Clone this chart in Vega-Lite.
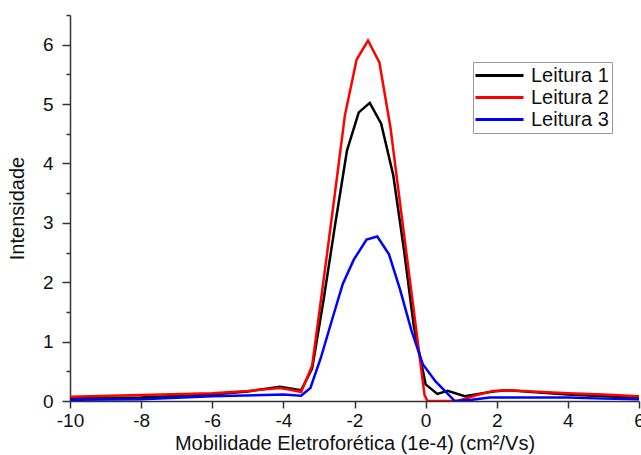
{
  "$schema": "https://vega.github.io/schema/vega-lite/v6.json",
  "width": 569,
  "height": 386,
  "autosize": {"type": "none"},
  "padding": {"left": 70, "top": 15, "right": 2, "bottom": 54},
  "background": "white",
  "config": {
    "view": {"stroke": null},
    "font": "Liberation Sans",
    "axis": {"grid": false, "domainColor": "#333333", "tickColor": "#333333", "domainWidth": 1.5, "tickWidth": 1.5, "labelColor": "#111111", "titleColor": "#111111", "labelFont": "Liberation Sans", "titleFont": "Liberation Sans", "labelFontSize": 19, "titleFontSize": 20, "titleFontWeight": "normal"}
  },
  "data": {
    "values": [
      {"s": "Leitura 1", "x": -10, "y": 0.04},
      {"s": "Leitura 1", "x": -8, "y": 0.06},
      {"s": "Leitura 1", "x": -6, "y": 0.11},
      {"s": "Leitura 1", "x": -5, "y": 0.16},
      {"s": "Leitura 1", "x": -4.1, "y": 0.24},
      {"s": "Leitura 1", "x": -3.5, "y": 0.18},
      {"s": "Leitura 1", "x": -3.19, "y": 0.55},
      {"s": "Leitura 1", "x": -2.87, "y": 1.7},
      {"s": "Leitura 1", "x": -2.55, "y": 2.95},
      {"s": "Leitura 1", "x": -2.21, "y": 4.22},
      {"s": "Leitura 1", "x": -1.88, "y": 4.86},
      {"s": "Leitura 1", "x": -1.57, "y": 5.02},
      {"s": "Leitura 1", "x": -1.25, "y": 4.67},
      {"s": "Leitura 1", "x": -0.91, "y": 3.8},
      {"s": "Leitura 1", "x": -0.61, "y": 2.55},
      {"s": "Leitura 1", "x": -0.33, "y": 1.25},
      {"s": "Leitura 1", "x": 0.0, "y": 0.28},
      {"s": "Leitura 1", "x": 0.33, "y": 0.12},
      {"s": "Leitura 1", "x": 0.62, "y": 0.17},
      {"s": "Leitura 1", "x": 1.1, "y": 0.08},
      {"s": "Leitura 1", "x": 1.9, "y": 0.16},
      {"s": "Leitura 1", "x": 2.3, "y": 0.18},
      {"s": "Leitura 1", "x": 3, "y": 0.15},
      {"s": "Leitura 1", "x": 4, "y": 0.11},
      {"s": "Leitura 1", "x": 5, "y": 0.08},
      {"s": "Leitura 1", "x": 6, "y": 0.06},
      {"s": "Leitura 2", "x": -10, "y": 0.07},
      {"s": "Leitura 2", "x": -8, "y": 0.1},
      {"s": "Leitura 2", "x": -6, "y": 0.13},
      {"s": "Leitura 2", "x": -5, "y": 0.17},
      {"s": "Leitura 2", "x": -4.1, "y": 0.22},
      {"s": "Leitura 2", "x": -3.8, "y": 0.19},
      {"s": "Leitura 2", "x": -3.5, "y": 0.15},
      {"s": "Leitura 2", "x": -3.19, "y": 0.6},
      {"s": "Leitura 2", "x": -2.87, "y": 2.03},
      {"s": "Leitura 2", "x": -2.55, "y": 3.5},
      {"s": "Leitura 2", "x": -2.27, "y": 4.81},
      {"s": "Leitura 2", "x": -1.94, "y": 5.75},
      {"s": "Leitura 2", "x": -1.62, "y": 6.07},
      {"s": "Leitura 2", "x": -1.3, "y": 5.7},
      {"s": "Leitura 2", "x": -0.99, "y": 4.61},
      {"s": "Leitura 2", "x": -0.67, "y": 3.1},
      {"s": "Leitura 2", "x": -0.35, "y": 1.6},
      {"s": "Leitura 2", "x": -0.03, "y": 0.1},
      {"s": "Leitura 2", "x": 0.05, "y": 0.0},
      {"s": "Leitura 2", "x": 0.9, "y": 0.0},
      {"s": "Leitura 2", "x": 1.45, "y": 0.1},
      {"s": "Leitura 2", "x": 1.9, "y": 0.17},
      {"s": "Leitura 2", "x": 2.3, "y": 0.18},
      {"s": "Leitura 2", "x": 3, "y": 0.16},
      {"s": "Leitura 2", "x": 4, "y": 0.13},
      {"s": "Leitura 2", "x": 5, "y": 0.11},
      {"s": "Leitura 2", "x": 6, "y": 0.08},
      {"s": "Leitura 3", "x": -10, "y": 0.02},
      {"s": "Leitura 3", "x": -8, "y": 0.03},
      {"s": "Leitura 3", "x": -6, "y": 0.08},
      {"s": "Leitura 3", "x": -4, "y": 0.11},
      {"s": "Leitura 3", "x": -3.5, "y": 0.09},
      {"s": "Leitura 3", "x": -3.24, "y": 0.22},
      {"s": "Leitura 3", "x": -2.95, "y": 0.72},
      {"s": "Leitura 3", "x": -2.65, "y": 1.33},
      {"s": "Leitura 3", "x": -2.33, "y": 1.97},
      {"s": "Leitura 3", "x": -2.02, "y": 2.38},
      {"s": "Leitura 3", "x": -1.66, "y": 2.72},
      {"s": "Leitura 3", "x": -1.36, "y": 2.77},
      {"s": "Leitura 3", "x": -1.03, "y": 2.47},
      {"s": "Leitura 3", "x": -0.72, "y": 1.88},
      {"s": "Leitura 3", "x": -0.4, "y": 1.19},
      {"s": "Leitura 3", "x": -0.08, "y": 0.62},
      {"s": "Leitura 3", "x": 0.28, "y": 0.33},
      {"s": "Leitura 3", "x": 0.82, "y": 0.0},
      {"s": "Leitura 3", "x": 1.3, "y": 0.02},
      {"s": "Leitura 3", "x": 1.8, "y": 0.06},
      {"s": "Leitura 3", "x": 3, "y": 0.06},
      {"s": "Leitura 3", "x": 4, "y": 0.06},
      {"s": "Leitura 3", "x": 5, "y": 0.04},
      {"s": "Leitura 3", "x": 6, "y": 0.03}
    ]
  },
  "mark": {"type": "line", "strokeWidth": 2.5, "clip": true},
  "encoding": {
    "x": {
      "field": "x", "type": "quantitative",
      "scale": {"domain": [-10, 6], "nice": false, "zero": false},
      "axis": {"values": [-10, -8, -6, -4, -2, 0, 2, 4, 6], "labelExpr": "toString(datum.value)", "tickSize": 7, "labelPadding": 3, "title": "Mobilidade Eletroforética (1e-4) (cm²/Vs)", "titlePadding": 3, "labelFlush": false, "labelOverlap": false}
    },
    "y": {
      "field": "y", "type": "quantitative",
      "scale": {"domain": [0, 6.5], "nice": false},
      "axis": {"values": [0, 0.5, 1, 1.5, 2, 2.5, 3, 3.5, 4, 4.5, 5, 5.5, 6, 6.5], "labelExpr": "datum.value % 1 === 0 ? toString(datum.value) : ''", "tickSize": {"condition": {"test": "datum.value % 1 !== 0", "value": 4}, "value": 8}, "labelPadding": 9, "title": "Intensidade", "titlePadding": 15, "labelFlush": false, "labelOverlap": false}
    },
    "color": {
      "field": "s", "type": "nominal",
      "scale": {"domain": ["Leitura 1", "Leitura 2", "Leitura 3"], "range": ["#000000", "#ff0000", "#0000ff"]},
      "legend": {"title": null, "orient": "none", "legendX": 403, "legendY": 47, "strokeColor": "#999999", "padding": 3, "labelFontSize": 20, "labelFont": "Liberation Sans", "labelColor": "#111111", "symbolType": "M-2.67,0H2.67", "symbolSize": 324, "symbolStrokeWidth": 3, "symbolOffset": 13, "labelOffset": 21, "rowPadding": 1}
    }
  }
}
